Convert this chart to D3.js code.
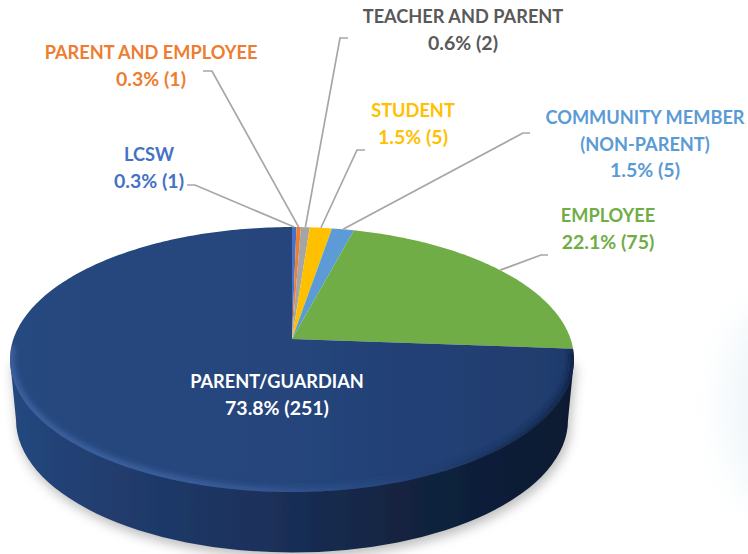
<!DOCTYPE html>
<html>
<head>
<meta charset="utf-8">
<script src="https://cdn.jsdelivr.net/npm/d3@7"></script>
<style>
  html, body { margin: 0; padding: 0; background: #fff; }
  svg { display: block; }
</style>
</head>
<body>
<div id="chart"></div>
<script>
const categories = ["LCSW", "PARENT AND EMPLOYEE", "TEACHER AND PARENT", "STUDENT", "COMMUNITY MEMBER (NON-PARENT)", "EMPLOYEE", "PARENT/GUARDIAN"];
const counts = [1, 1, 2, 5, 5, 75, 251];
const percents = ["0.3%", "0.3%", "0.6%", "1.5%", "1.5%", "22.1%", "73.8%"];

const sliceColors = ["#4472c4", "#ed7d31", "#a5a5a5", "#ffc000", "#5b9bd5", "#70ad47", "#264478"];
const textColors = ["#4472c4", "#ed7d31", "#595959", "#ffc000", "#5b9bd5", "#70ad47", "#ffffff"];

// label centre x and first baseline y, wrapped lines
const labelX = [149, 151, 463, 413, 645, 608, 277];
const labelY = [161, 59, 23, 117, 124, 222, 388];
const labelLines = [["LCSW"], ["PARENT AND EMPLOYEE"], ["TEACHER AND PARENT"], ["STUDENT"], ["COMMUNITY MEMBER", "(NON-PARENT)"], ["EMPLOYEE"], ["PARENT/GUARDIAN"]];
// leader line: outer end x, elbow x, y of the horizontal run
const leaderEnd = [187, 203, 348, 365, 530, 548, null];
const leaderElbow = [195, 212, 340, 357, 523, 541, null];
const leaderY = [185, 71, 38, 150, 133, 255, null];

const width = 748;
const height = 554;

// perspective view of the flat disc
const centerX = 292;
const centerY = 339;
const radiusX = 278.6;
const radiusY = 129.3;
const tilt = 0.155;
const project = (angle, r = 1) => {
  const u = r * Math.sin(angle);
  const v = -r * Math.cos(angle);
  const s = 1 / (1 - tilt * v);
  return [centerX + radiusX * u * s, centerY + radiusY * v * s];
};

const svg = d3.select("#chart").append("svg")
  .attr("width", width)
  .attr("height", height)
  .attr("viewBox", `0 0 ${width} ${height}`)
  .style("background", "#fff");

const defs = svg.append("defs");
const blur = (id, amount) => defs.append("filter")
  .attr("id", id)
  .attr("x", "-30%").attr("y", "-30%").attr("width", "160%").attr("height", "160%")
  .append("feGaussianBlur").attr("stdDeviation", amount);
blur("soft", 0.5);
blur("shadow", 6);
blur("glow", 18);
blur("rim", 3.5);

const gradient = (id, stops) => {
  const g = defs.append("linearGradient")
    .attr("id", id)
    .attr("gradientUnits", "userSpaceOnUse")
    .attr("x1", 10).attr("x2", 574).attr("y1", 0).attr("y2", 0);
  stops.forEach(([offset, color]) => {
    g.append("stop").attr("offset", offset).attr("stop-color", color);
  });
};
gradient("wallFill", [[0, "#25487f"], [0.15, "#213e70"], [0.45, "#1b315b"], [0.7, "#12233f"], [1, "#0c1931"]]);
gradient("rimFill", [[0, "#4870b0"], [0.35, "#456cab"], [0.6, "#2e508e"], [0.8, "#1c3561"], [1, "#0b1830"]]);
gradient("faceFill", [[0, "#26487f"], [0.5, "#25457c"], [1, "#1f3b6c"]]);

// faint tint at the right edge of the slide
svg.append("ellipse")
  .attr("cx", 775).attr("cy", 405).attr("rx", 50).attr("ry", 100)
  .attr("fill", "#d3e8f0").attr("opacity", 0.35)
  .attr("filter", "url(#glow)");

const wallPath = "M10,359.5 L16,420 A276,132.5 0 0 0 568,420 L574,359.5 Z";

svg.append("path")
  .attr("d", wallPath)
  .attr("transform", "translate(2,5)")
  .attr("fill", "#777")
  .attr("opacity", 0.5)
  .attr("filter", "url(#shadow)");

const pieGroup = svg.append("g").attr("filter", "url(#soft)");

pieGroup.append("path")
  .attr("d", wallPath)
  .attr("fill", "url(#wallFill)");

const pie = d3.pie().sort(null).value((d) => d);
const arcs = pie(counts);
const line = d3.line();

const slicePoints = (arc) => {
  const steps = Math.max(2, Math.ceil((arc.endAngle - arc.startAngle) * 60));
  const rim = d3.range(steps + 1).map((i) =>
    project(arc.startAngle + (arc.endAngle - arc.startAngle) * i / steps));
  return [project(0, 0), ...rim];
};

pieGroup.selectAll("path.slice")
  .data(arcs)
  .join("path")
  .attr("class", "slice")
  .attr("d", (d) => line(slicePoints(d)) + "Z")
  .attr("fill", (d, i) => i === arcs.length - 1 ? "url(#faceFill)" : sliceColors[i]);

// bevel along the front of the disc
const parentArc = arcs[arcs.length - 1];
defs.append("clipPath").attr("id", "faceClip")
  .append("path").attr("d", line(slicePoints(parentArc)) + "Z");
const frontRim = d3.range(0, 81).map((i) =>
  project(parentArc.startAngle + (parentArc.endAngle - parentArc.startAngle) * i / 80))
  .filter((p) => p[1] > 345);
pieGroup.append("g")
  .attr("clip-path", "url(#faceClip)")
  .append("path")
  .attr("d", line(frontRim))
  .attr("fill", "none")
  .attr("stroke", "url(#rimFill)")
  .attr("stroke-width", 6)
  .attr("filter", "url(#rim)");

// leader lines
arcs.forEach((arc, i) => {
  if (leaderEnd[i] === null) return;
  const mid = (arc.startAngle + arc.endAngle) / 2;
  svg.append("path")
    .attr("d", line([[leaderEnd[i], leaderY[i]], [leaderElbow[i], leaderY[i]], project(mid)]))
    .attr("fill", "none")
    .attr("stroke", "#a6a6a6")
    .attr("stroke-width", 1.7);
});

// labels
categories.forEach((name, i) => {
  const text = svg.append("text")
    .attr("text-anchor", "middle")
    .attr("fill", textColors[i])
    .attr("font-family", "Lato, 'Open Sans', sans-serif")
    .attr("font-weight", 700);
  const lines = [...labelLines[i], `${percents[i]} (${counts[i]})`];
  lines.forEach((content, k) => {
    text.append("tspan")
      .attr("x", labelX[i])
      .attr("y", labelY[i] + k * 26.5)
      .attr("font-size", k === lines.length - 1 ? 19.5 : 18.2)
      .text(content);
  });
});
</script>
</body>
</html>
